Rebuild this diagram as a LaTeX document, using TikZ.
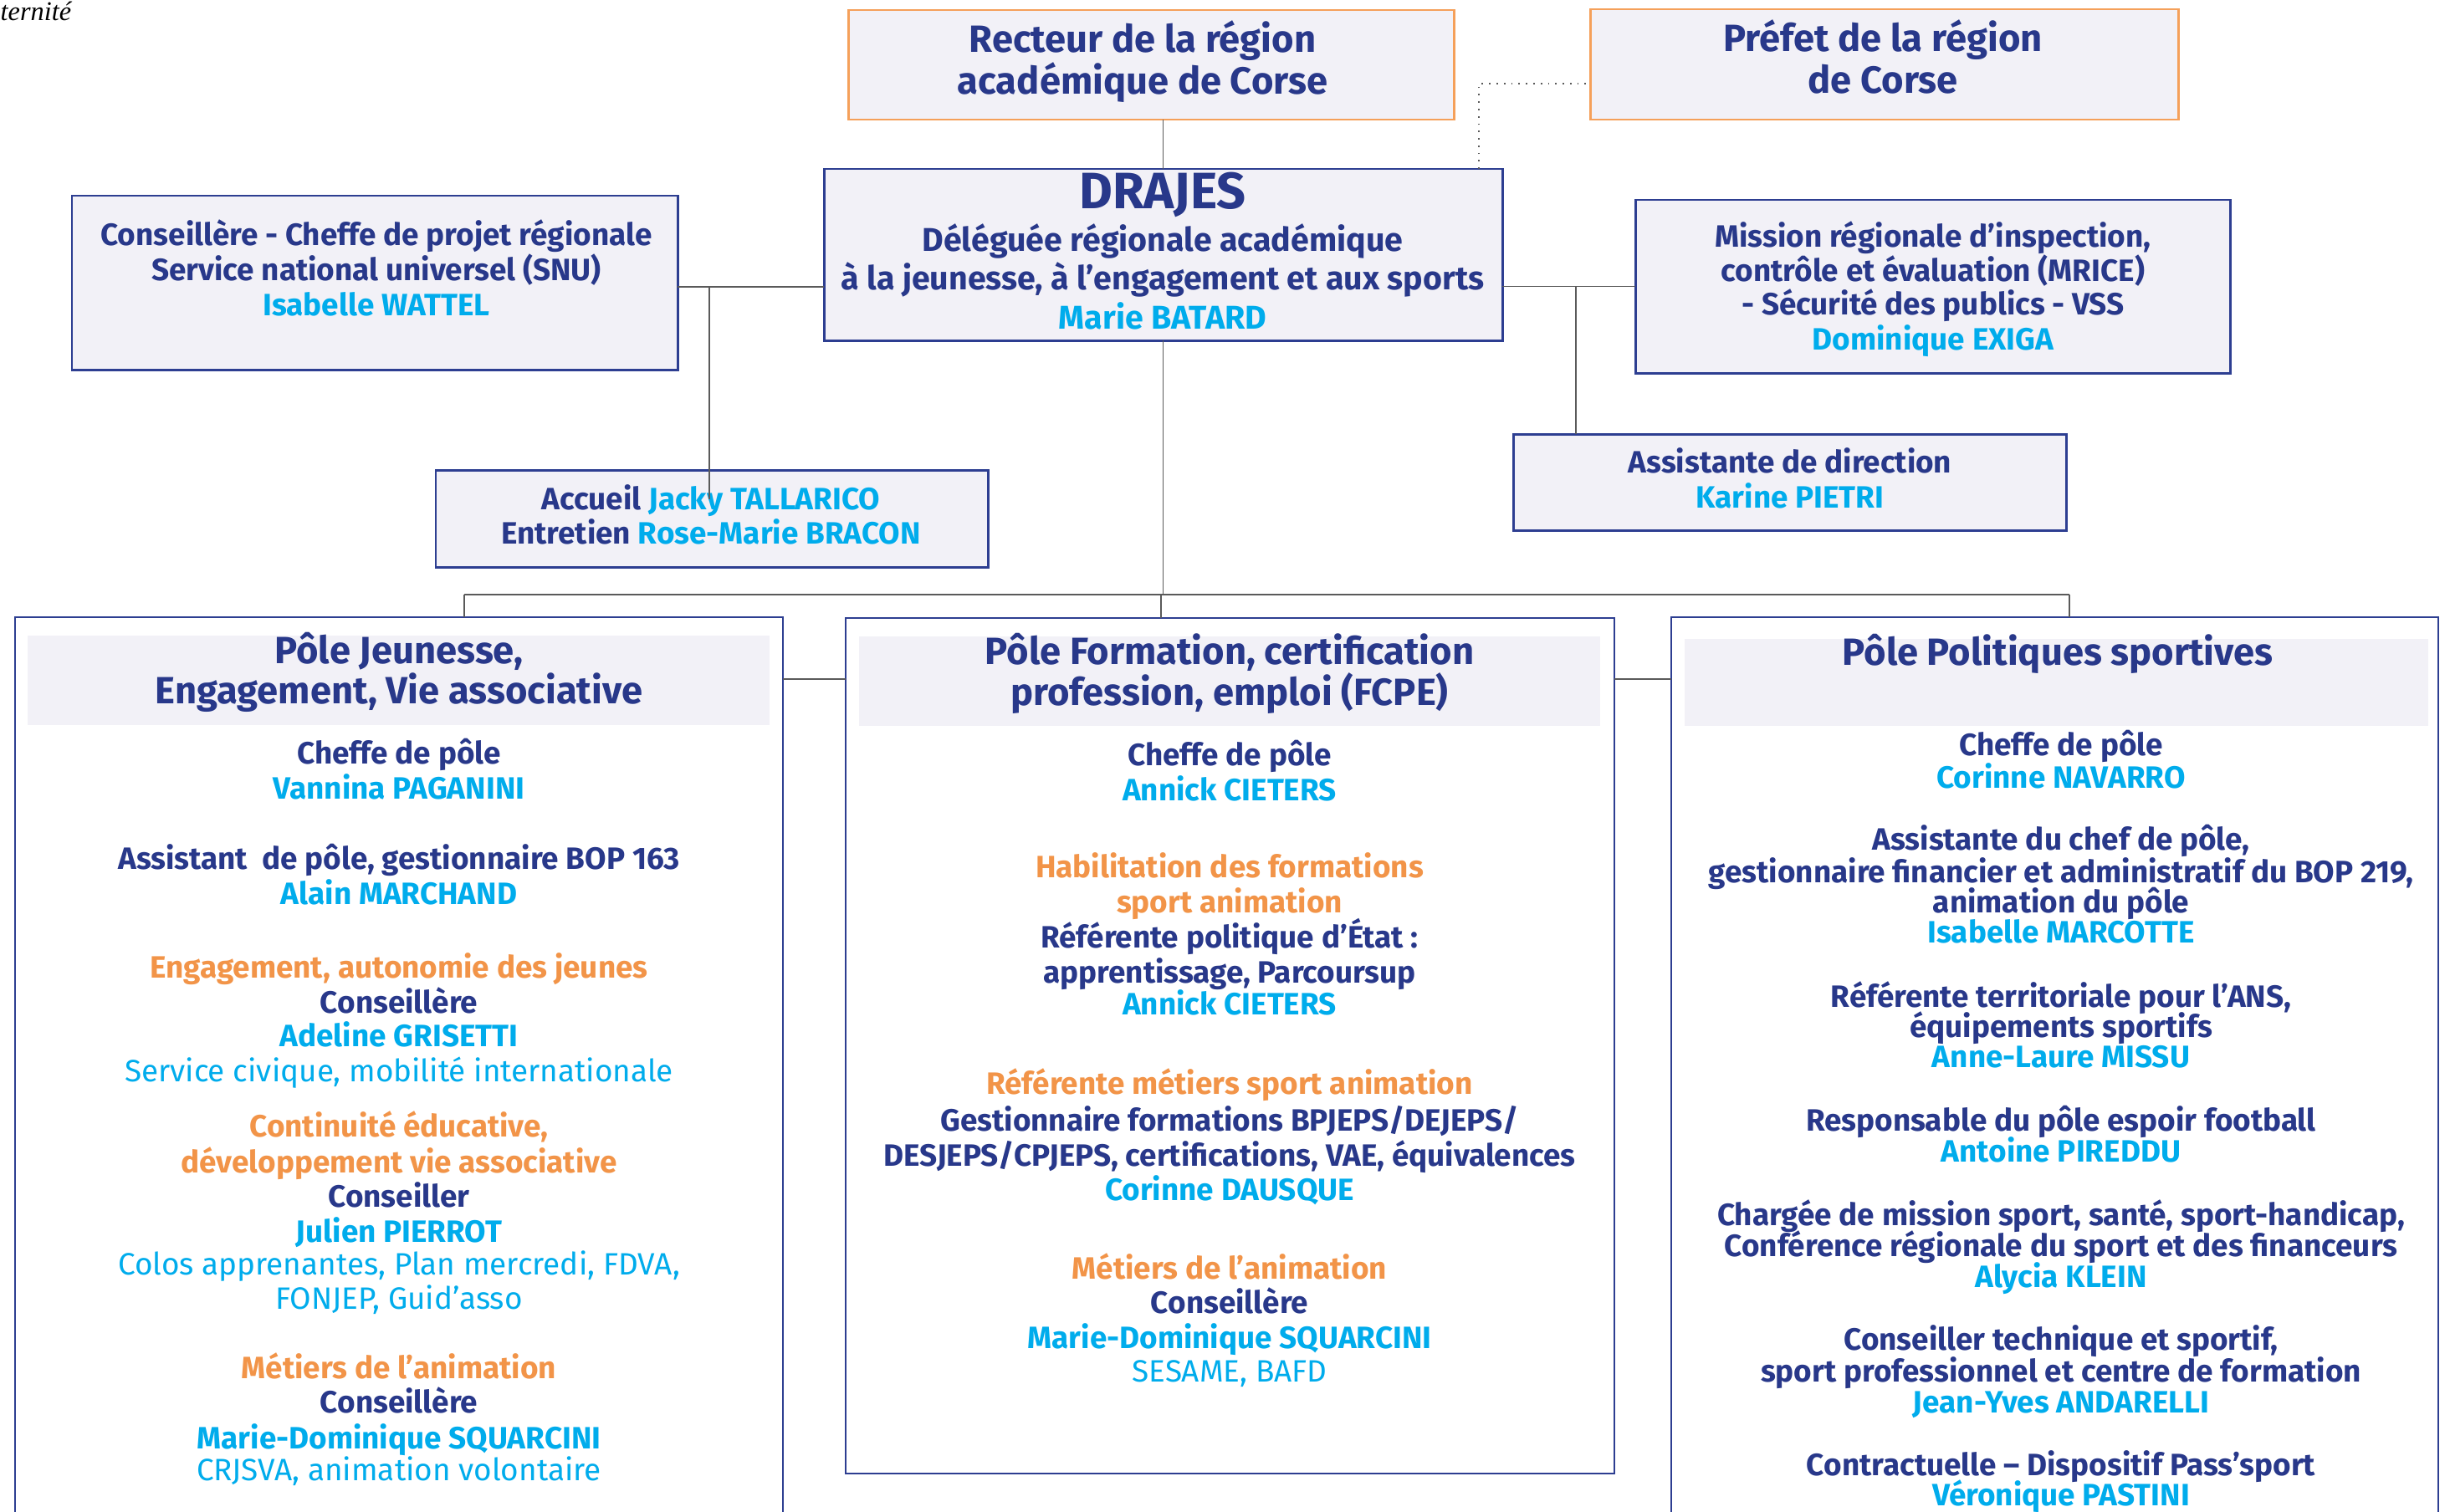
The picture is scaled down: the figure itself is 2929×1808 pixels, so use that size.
\documentclass[tikz,border=0pt]{standalone}
\usepackage{fontspec}
\setmainfont{Fira Sans}
\newfontfamily\serifit{Liberation Serif}
\usetikzlibrary{calc}
\definecolor{navy}{RGB}{40,56,138}
\definecolor{navyB}{RGB}{45,62,145}
\definecolor{cyanC}{RGB}{0,172,236}
\definecolor{orangeC}{RGB}{242,148,72}
\definecolor{orangeB}{RGB}{245,160,90}
\definecolor{boxfill}{RGB}{242,241,247}
\definecolor{lineG}{RGB}{90,90,90}
\newcommand\fbody{\fontsize{10.5}{12}\selectfont}
\newcommand\fhead{\fontsize{12.9}{14}\selectfont}
\newcommand\fdrh{\fontsize{17.4}{19}\selectfont}
\newcommand\fdrb{\fontsize{11.2}{13}\selectfont}
\newcounter{tln}
\newcommand\tx[4]{\stepcounter{tln}\node[txt,#3] (t\arabic{tln}) at (#1,#2) {#4};}
\newcommand\bx[6]{\node[#6, minimum width={(#4-#2)*0.1mm}, minimum height={(#5-#3)*0.1mm}] (#1) at ({(#2+#4)/2},{(#3+#5)/2}) {};}
\newcommand\cy[1]{\textcolor{cyanC}{#1}}
\tikzset{
  txt/.style={anchor=base, inner sep=0pt, outer sep=0pt, font=\bfseries\fbody, text=navy},
  nm/.style={text=cyanC},
  cyr/.style={text=cyanC, font=\fbody},
  og/.style={text=orangeC},
  hd/.style={font=\bfseries\fhead},
  drh/.style={font=\bfseries\fdrh},
  drb/.style={font=\bfseries\fdrb},
  topbox/.style={draw=orangeB, line width=0.85pt, fill=boxfill, inner sep=0pt, outer sep=0pt},
  box/.style={draw=navyB, line width=0.85pt, fill=boxfill, inner sep=0pt, outer sep=0pt},
  polebox/.style={draw=navyB, line width=0.7pt, fill=white, inner sep=0pt, outer sep=0pt},
  band/.style={draw=none, fill=boxfill, inner sep=0pt, outer sep=0pt},
  conn/.style={draw=lineG, line width=0.55pt},
  dotline/.style={draw=lineG, line width=0.5pt, dotted},
}
\begin{document}
\begin{tikzpicture}[x=0.1mm, y=-0.1mm]
\useasboundingbox (0,0) rectangle (2929,1808);
\fill[white] (0,0) rectangle (2929,1808);

\node[anchor=base west, inner sep=0pt, font=\serifit\itshape\fontsize{9.2}{10}\selectfont] (frat) at (0,24) {ternité};

% top boxes
\bx{recteur}{1014}{12}{1738}{143}{topbox}
\bx{prefet}{1901}{11}{2604}{143}{topbox}
\bx{drajes}{985}{202}{1796}{407}{box}
\bx{snu}{86}{234}{810}{442}{box}
\bx{mrice}{1955}{239}{2666}{446}{box}
\bx{asst}{1809}{519}{2470}{634}{box}
\bx{accueil}{521}{562}{1181}{678}{box}

% poles
\bx{pj}{18}{738}{936}{1840}{polebox}
\bx{pf}{1011}{739}{1930}{1762}{polebox}
\bx{pp}{1998}{738}{2915}{1840}{polebox}
\bx{hj}{33}{760}{920}{867}{band}
\bx{hf}{1027}{761}{1913}{868}{band}
\bx{hp}{2014}{764}{2903}{868}{band}

% connectors
\draw[conn] (drajes.north) -- (drajes.north |- recteur.south);
\draw[dotline] (drajes.north -| 1768,0) |- (prefet.west |- 0,100);
\draw[conn] (snu.east |- 0,343) -- (drajes.west |- 0,343);
\draw[conn] (drajes.east |- mrice.west) -- (mrice.west);
\coordinate (jr) at (1884,342);
\draw[conn] (jr) -- (asst.north -| jr);
\coordinate (busL) at (555,711);
\coordinate (busM) at (1388,711);
\coordinate (busR) at (2474,711);
\draw[conn] (drajes.south) -- (drajes.south |- busL);
\draw[conn] (busL) -- (busR);
\draw[conn] (busL) -- (busL |- pj.north);
\draw[conn] (busM) -- (busM |- pf.north);
\draw[conn] (busR) -- (busR |- pp.north);
\draw[conn] (pj.east |- 0,812) -- (pf.west |- 0,812);
\draw[conn] (pf.east |- 0,812) -- (pp.west |- 0,812);

% texts top
\tx{1366}{62}{hd}{Recteur de la région}
\tx{1366}{112}{hd}{académique de Corse}
\tx{2251}{61}{hd}{Préfet de la région}
\tx{2251}{111}{hd}{de Corse}
\tx{1390}{249}{drh}{DRAJES}
\tx{1390}{300}{drb}{Déléguée régionale académique}
\tx{1390}{346}{drb}{à la jeunesse, à l’engagement et aux sports}
\tx{1390}{393}{drb,nm}{Marie BATARD}
\tx{450}{293}{}{Conseillère - Cheffe de projet régionale}
\tx{450}{335}{}{Service national universel (SNU)}
\tx{450}{377}{nm}{Isabelle WATTEL}
\tx{2311}{295}{}{Mission régionale d’inspection,}
\tx{2311}{336}{}{contrôle et évaluation (MRICE)}
\tx{2311}{376}{}{- Sécurité des publics - VSS}
\tx{2311}{418}{nm}{Dominique EXIGA}
\tx{2140}{565}{}{Assistante de direction}
\tx{2140}{607}{nm}{Karine PIETRI}
\tx{850}{609}{}{Accueil \cy{Jacky TALLARICO}}
\tx{850}{650}{}{Entretien \cy{Rose-Marie BRACON}}
\coordinate (jl) at (848,343);
\draw[conn] (jl) -- (jl |- 0,597);

% pole 1
\tx{477}{793}{hd}{Pôle Jeunesse,}
\tx{477}{841}{hd}{Engagement, Vie associative}
\tx{477}{913}{}{Cheffe de pôle}
\tx{477}{955}{nm}{Vannina PAGANINI}
\tx{477}{1039}{}{Assistant~ de pôle, gestionnaire BOP 163}
\tx{477}{1081}{nm}{Alain MARCHAND}
\tx{477}{1169}{og}{Engagement, autonomie des jeunes}
\tx{477}{1211}{}{Conseillère}
\tx{477}{1251}{nm}{Adeline GRISETTI}
\tx{477}{1293}{cyr}{Service civique, mobilité internationale}
\tx{477}{1359}{og}{Continuité éducative,}
\tx{477}{1402}{og}{développement vie associative}
\tx{477}{1443}{}{Conseiller}
\tx{477}{1485}{nm}{Julien PIERROT}
\tx{477}{1524}{cyr}{Colos apprenantes, Plan mercredi, FDVA,}
\tx{477}{1565}{cyr}{FONJEP, Guid’asso}
\tx{477}{1648}{og}{Métiers de l’animation}
\tx{477}{1689}{}{Conseillère}
\tx{477}{1732}{nm}{Marie-Dominique SQUARCINI}
\tx{477}{1770}{cyr}{CRJSVA, animation volontaire}

% pole 2
\tx{1470}{794}{hd}{Pôle Formation, certification}
\tx{1470}{843}{hd}{profession, emploi (FCPE)}
\tx{1470}{915}{}{Cheffe de pôle}
\tx{1470}{957}{nm}{Annick CIETERS}
\tx{1470}{1049}{og}{Habilitation des formations}
\tx{1470}{1091}{og}{sport animation}
\tx{1470}{1133}{}{Référente politique d’État :}
\tx{1470}{1175}{}{apprentissage, Parcoursup}
\tx{1470}{1213}{nm}{Annick CIETERS}
\tx{1470}{1308}{og}{Référente métiers sport animation}
\tx{1470}{1352}{}{Gestionnaire formations BPJEPS/DEJEPS/}
\tx{1470}{1394}{}{DESJEPS/CPJEPS, certifications, VAE, équivalences}
\tx{1470}{1435}{nm}{Corinne DAUSQUE}
\tx{1470}{1529}{og}{Métiers de l’animation}
\tx{1470}{1570}{}{Conseillère}
\tx{1470}{1612}{nm}{Marie-Dominique SQUARCINI}
\tx{1470}{1652}{cyr}{SESAME, BAFD}

% pole 3
\tx{2460}{795}{hd}{Pôle Politiques sportives}
\tx{2464}{903}{}{Cheffe de pôle}
\tx{2464}{942}{nm}{Corinne NAVARRO}
\tx{2464}{1016}{}{Assistante du chef de pôle,}
\tx{2464}{1055}{}{gestionnaire financier et administratif du BOP 219,}
\tx{2464}{1091}{}{animation du pôle}
\tx{2464}{1127}{nm}{Isabelle MARCOTTE}
\tx{2464}{1204}{}{Référente territoriale pour l’ANS,}
\tx{2464}{1240}{}{équipements sportifs}
\tx{2464}{1276}{nm}{Anne-Laure MISSU}
\tx{2464}{1352}{}{Responsable du pôle espoir football}
\tx{2464}{1389}{nm}{Antoine PIREDDU}
\tx{2464}{1465}{}{Chargée de mission sport, santé, sport-handicap,}
\tx{2464}{1502}{}{Conférence régionale du sport et des financeurs}
\tx{2464}{1539}{nm}{Alycia KLEIN}
\tx{2464}{1614}{}{Conseiller technique et sportif,}
\tx{2464}{1652}{}{sport professionnel et centre de formation}
\tx{2464}{1689}{nm}{Jean-Yves ANDARELLI}
\tx{2464}{1764}{}{Contractuelle – Dispositif Pass’sport}
\tx{2464}{1800}{nm}{Véronique PASTINI}
\end{tikzpicture}
\end{document}
